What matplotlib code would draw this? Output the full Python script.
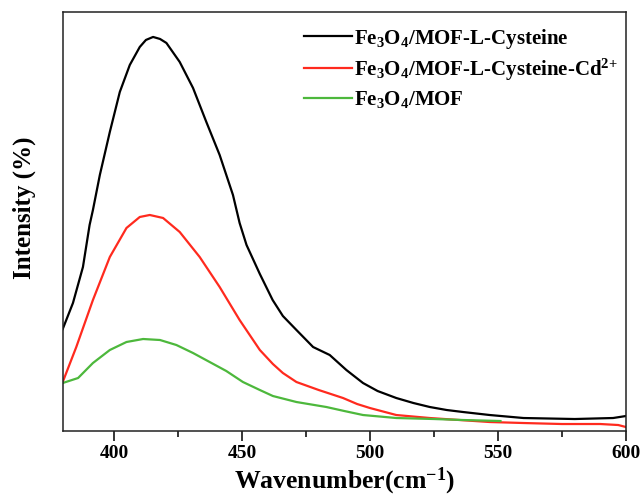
import matplotlib
matplotlib.use("Agg")
import matplotlib.pyplot as plt
from matplotlib.ticker import MultipleLocator

plt.rcParams['font.family'] = 'Liberation Serif'
plt.rcParams['font.weight'] = 'bold'
plt.rcParams['mathtext.fontset'] = 'custom'
plt.rcParams['mathtext.rm'] = 'Liberation Serif:bold'
plt.rcParams['mathtext.default'] = 'rm'

# values (intensity in arbitrary units)
x_cys = [380, 384, 387.9, 390.5, 391.8, 394.5, 398.4, 402.3, 406.2, 410.1, 412.5, 415.3, 418,
         420.5, 425.7, 430.9, 436.1, 441.3, 446.5, 449.1, 451.8, 457, 462, 466, 471.3, 477.8, 484.3,
         490.8, 497.3, 503, 510.3, 517, 523.4, 530, 536.4, 546.8, 560, 580, 595, 600]
y_cys = [102, 128, 164, 206, 221, 256, 299, 339, 366, 384, 391, 394, 392,
         388, 369, 343, 309, 276, 236, 208, 186, 157, 131, 115, 101, 84, 76,
         61, 48, 40, 33, 28, 24, 21, 19, 16, 13, 12, 13, 15]

x_cd = [380, 385.3, 391.8, 398.4, 404.9, 410.1, 414, 419.2, 425.7, 433.5, 441.3, 449.1, 457,
        462.1, 466, 471.3, 480, 489.5, 495, 500, 510.3, 523.4, 535, 546.8,
        560, 575, 590, 597, 600]
y_cd = [49, 84, 131, 174, 203, 214, 216, 213, 199, 174, 144, 111, 81,
        67, 58, 49, 41, 33, 27, 23, 16, 13, 11, 9,
        8, 7, 7, 6, 4]

x_mof = [380, 386, 391.8, 398.4, 404.9, 411.4, 418, 424.4, 430.9, 437.4, 443.9, 450.4, 457,
         462.1, 471.3, 483, 490, 497.3, 510.3, 525, 536.4, 551]
y_mof = [48, 53, 68, 81, 89, 92, 91, 86, 78, 69, 60, 49, 41,
         35, 29, 24, 20, 16, 13, 12, 11, 10]

labels = [r'Fe$_3$O$_4$/MOF-L-Cysteine',
          r'Fe$_3$O$_4$/MOF-L-Cysteine-Cd$^{2\!+}$',
          r'Fe$_3$O$_4$/MOF']

fig = plt.figure(figsize=(6.4, 4.98), dpi=100)
ax = fig.add_axes([0.098, 0.1345, 0.88, 0.8415])

ax.plot(x_cys, y_cys, color='black', lw=1.6, label=labels[0])
ax.plot(x_cd, y_cd, color='#FF2A1E', lw=1.6, label=labels[1])
ax.plot(x_mof, y_mof, color='#4DB83C', lw=1.6, label=labels[2])

ax.set_xlim(380, 600)
ax.set_ylim(0, 419)
ax.xaxis.set_major_locator(MultipleLocator(50))
ax.xaxis.set_minor_locator(MultipleLocator(25))
ax.set_yticks([])
ax.tick_params(axis='x', which='major', length=7, width=1.1, labelsize=14, pad=3)
ax.tick_params(axis='x', which='minor', length=4, width=1.1)
for s in ax.spines.values():
    s.set_linewidth(1.1)
    s.set_color('#222222')

ax.set_xlabel(r'Wavenumber(cm$^{-1}$)', fontsize=18.5, fontweight='bold')
ax.xaxis.set_label_coords(0.5, -0.136)
ax.xaxis.label.set_verticalalignment('baseline')
ax.set_ylabel('Intensity (%)', fontsize=18, fontweight='bold')
ax.yaxis.set_label_coords(-0.047, 0.533)

ax.legend(loc='upper right', bbox_to_anchor=(1.012, 1.0), frameon=False, handlelength=2.3,
          handletextpad=0.1, labelspacing=0.3, borderaxespad=0.3,
          prop={'family': 'Liberation Serif', 'weight': 'bold', 'size': 15})

fig.savefig('out.png', dpi=100)
